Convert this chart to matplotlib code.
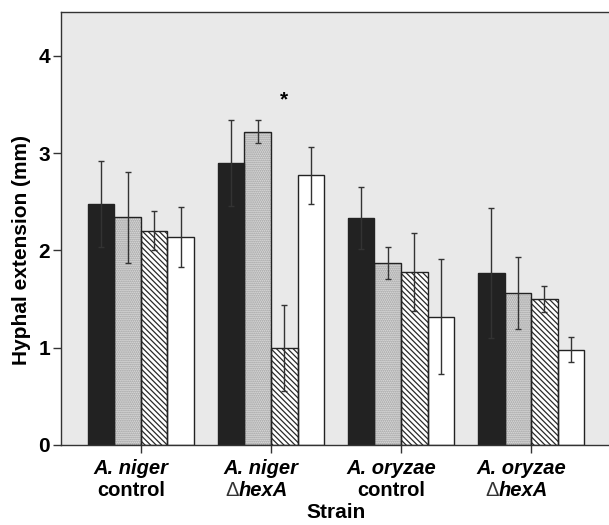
import matplotlib

matplotlib.use("Agg")
import matplotlib.pyplot as plt
import numpy as np

# Hyphal extension per strain, four treatments per strain
strains = ["A. niger", "A. niger", "A. oryzae", "A. oryzae"]
conditions = ["control", "hexA", "control", "hexA"]

black_vals = [2.48, 2.90, 2.33, 1.77]
black_err = [0.44, 0.44, 0.32, 0.67]
dotted_vals = [2.34, 3.22, 1.87, 1.56]
dotted_err = [0.47, 0.12, 0.16, 0.37]
hatched_vals = [2.20, 1.00, 1.78, 1.50]
hatched_err = [0.20, 0.44, 0.40, 0.13]
white_vals = [2.14, 2.77, 1.32, 0.98]
white_err = [0.31, 0.29, 0.59, 0.125]

star_group = 1
star_series = 2
star_y = 3.55

plt.rcParams["font.family"] = ["Liberation Sans", "DejaVu Sans"]
plt.rcParams["hatch.linewidth"] = 0.9

fig = plt.figure(figsize=(6.09, 5.25), dpi=100)
ax = fig.add_axes([61 / 609, 80 / 525, 550 / 609, 433 / 525])
ax.set_facecolor("#e9e9e9")

x = np.arange(len(strains))
w = 0.204
series = [
    (black_vals, black_err, dict(color="#222222", edgecolor="#222222")),
    (dotted_vals, dotted_err, dict(color="#dcdcdc", edgecolor="#9a9a9a", hatch="........")),
    (hatched_vals, hatched_err, dict(color="white", edgecolor="#2a2a2a", hatch="\\\\\\\\\\\\")),
    (white_vals, white_err, dict(color="white", edgecolor="#333333")),
]
for i, (vals, errs, style) in enumerate(series):
    pos = x + (i - 1.5) * w
    ax.bar(pos, vals, width=w, linewidth=0, zorder=2, **style)
    # dark outline on top of the hatch
    ax.bar(pos, vals, width=w, fill=False, edgecolor="#222222", linewidth=1, zorder=2.5)
    ax.errorbar(pos, vals, yerr=errs, fmt="none", ecolor="#333333",
                elinewidth=1, capsize=2.2, capthick=1, zorder=3)

ax.text(x[star_group] + (star_series - 1.5) * w, star_y, "*",
        ha="center", va="center", fontsize=15, fontweight="bold")

ax.set_xlim(-0.615, 3.615)
ax.set_ylim(0, 4.45)
ax.set_yticks([0, 1, 2, 3, 4])
ax.set_yticklabels(["0", "1", "2", "3", "4"], fontsize=15, fontweight="bold")
ax.set_xticks(x)
ax.set_xticklabels([])
ax.tick_params(axis="both", direction="out", length=6, width=1, color="#333333", pad=2)

for side in ["left", "top", "bottom"]:
    ax.spines[side].set_color("#333333")
    ax.spines[side].set_linewidth(1)
ax.spines["right"].set_visible(False)

tr = ax.get_xaxis_transform()
for xi, name, cond in zip(x, strains, conditions):
    ax.annotate(name, (xi, 0), xycoords=tr, xytext=(-10, -23), textcoords="offset pixels",
                ha="center", va="center", fontsize=14.5, fontweight="bold", fontstyle="italic")
    if cond == "control":
        ax.annotate(cond, (xi, 0), xycoords=tr, xytext=(-10, -45), textcoords="offset pixels",
                    ha="center", va="center", fontsize=14.5, fontweight="bold")
    else:
        ax.annotate("\u0394", (xi, 0), xycoords=tr, xytext=(-32, -45), textcoords="offset pixels",
                    ha="right", va="center", fontsize=14.5, color="#333333")
        ax.annotate(cond, (xi, 0), xycoords=tr, xytext=(-32, -45), textcoords="offset pixels",
                    ha="left", va="center", fontsize=14.5, fontweight="bold", fontstyle="italic")

ax.annotate("Strain", (0.5, 0), xycoords="axes fraction", xytext=(0, -68),
            textcoords="offset pixels", ha="center", va="center",
            fontsize=15, fontweight="bold")
ax.set_ylabel("Hyphal extension (mm)", fontsize=15, fontweight="bold")
ax.yaxis.set_label_coords(-0.055, 0.45)

fig.savefig("out.png", dpi=100)
